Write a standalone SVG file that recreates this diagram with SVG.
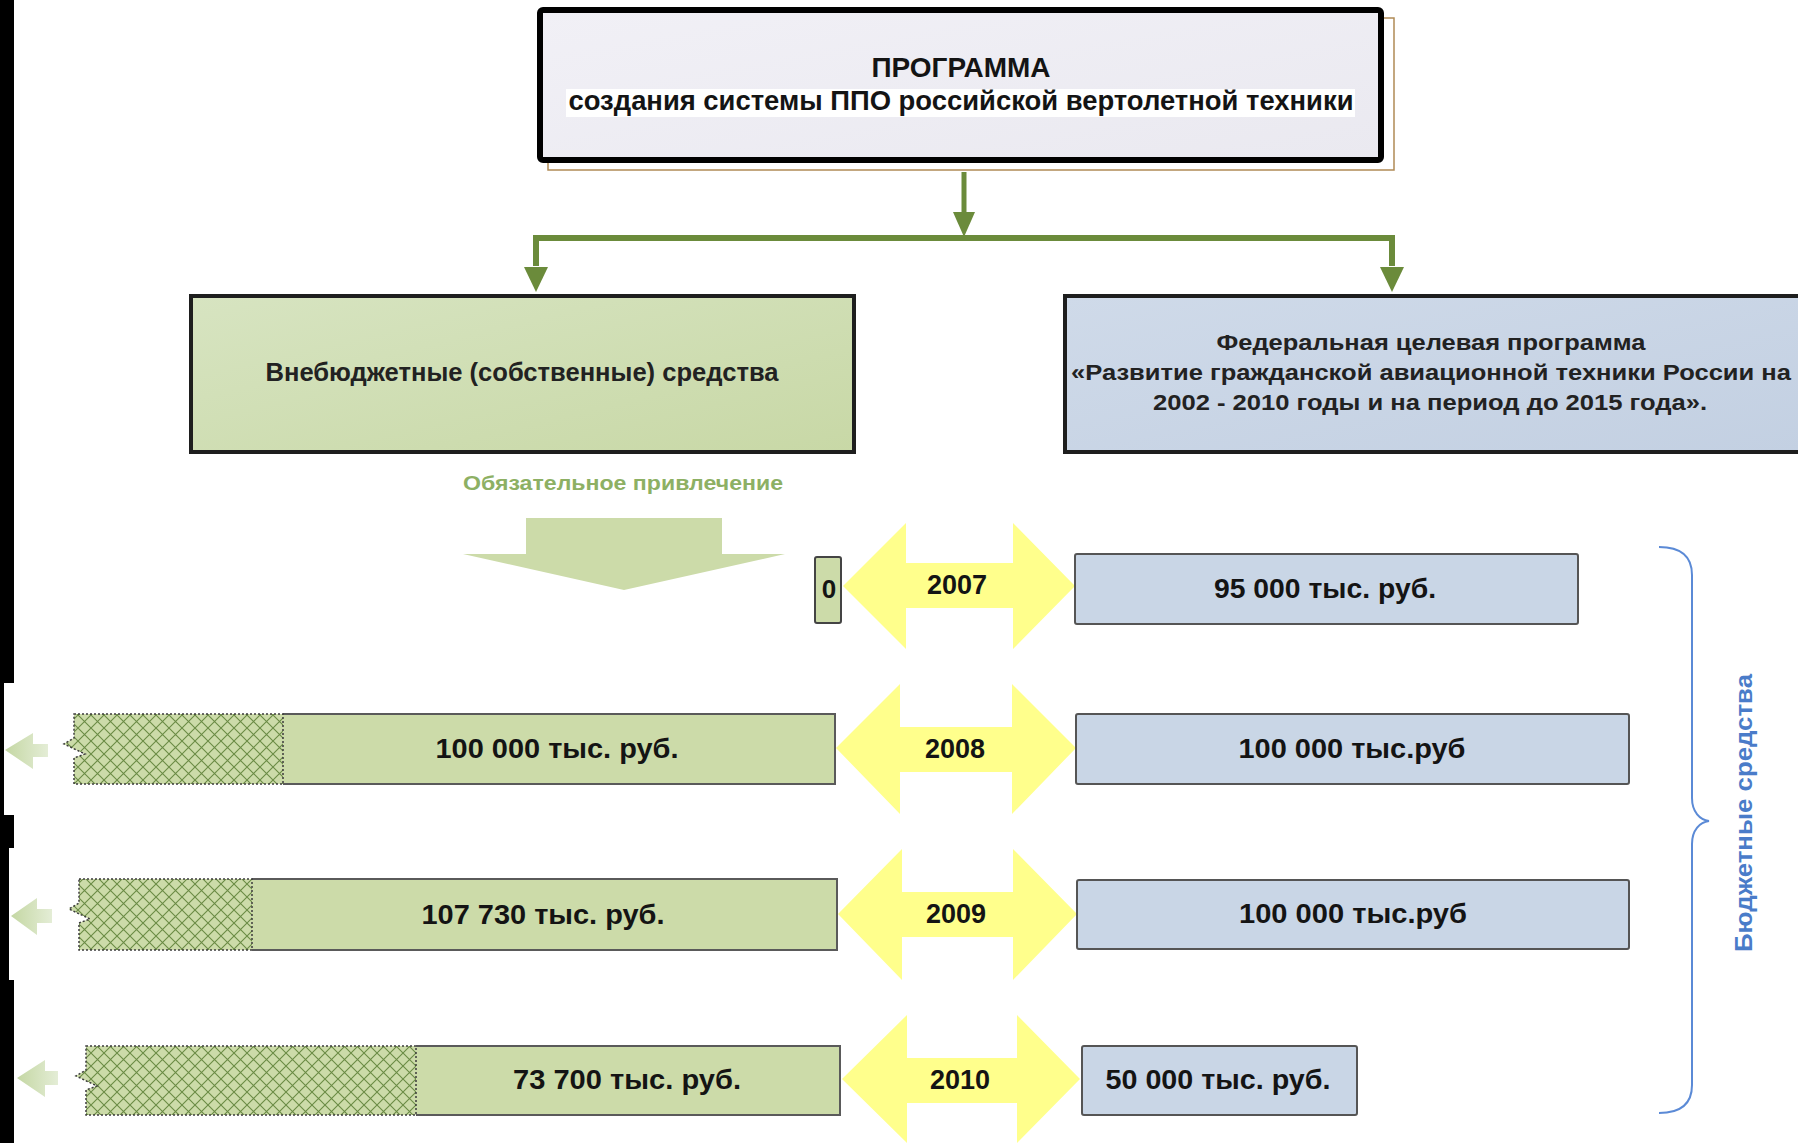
<svg xmlns="http://www.w3.org/2000/svg" width="1798" height="1143" viewBox="0 0 1798 1143">
<defs>
<style>
text{font-family:"Liberation Sans",Arial,sans-serif;fill:#141414}
.b{font-weight:bold}
.conn{stroke:#6B8B3B;fill:none}
.head{fill:#6B8B3B}
.bar{fill:#CCDBA9;stroke:none}
.barline{fill:none;stroke:#5a5a5a;stroke-width:2}
.hatch{fill:url(#hatch);stroke:#3c3c3c;stroke-width:1.5;stroke-dasharray:2 2}
.blue{fill:#C9D6E6;stroke:#555;stroke-width:2}
.yel{fill:#FFFF8C}
.val{font-size:28px;font-weight:bold;text-anchor:middle}
.yr{font-size:27px;font-weight:bold;text-anchor:middle}
.larr{fill:url(#lg)}
.greenlbl{fill:#8DB064}
.bluelbl{fill:#4A7CC9}
.dark{fill:#222}
</style>
<pattern id="hatch" patternUnits="userSpaceOnUse" width="13" height="13">
<rect width="13" height="13" fill="#CCDBA9"/>
<path d="M0,0 L13,13 M13,0 L0,13" stroke="#6A8B44" stroke-width="1.1"/>
</pattern>
<linearGradient id="gl" x1="0" y1="0" x2="1" y2="1">
<stop offset="0" stop-color="#D7E4C1"/>
<stop offset="1" stop-color="#C8D8A6"/>
</linearGradient>
<linearGradient id="bl" x1="0" y1="0" x2="1" y2="1">
<stop offset="0" stop-color="#CFDAE9"/>
<stop offset="1" stop-color="#C3D0E2"/>
</linearGradient>
<linearGradient id="tg" x1="0" y1="0" x2="1" y2="1">
<stop offset="0" stop-color="#F1F0F6"/>
<stop offset="1" stop-color="#EAE9F0"/>
</linearGradient>
<linearGradient id="lg" x1="0" y1="0" x2="1" y2="0">
<stop offset="0" stop-color="#C4D7A3"/>
<stop offset="1" stop-color="#E4EDD6"/>
</linearGradient>
</defs>
<rect width="1798" height="1143" fill="#FFFFFF"/>
<path d="M0,0 H14 V683 H4 V815 H14 V848 H9 V980 H14 V1143 H0 Z" fill="#000"/>

<g id="connectors">
<path class="conn" stroke-width="5" d="M964,172 V214"/>
<polygon class="head" points="953,212 975,212 964,237"/>
<path class="conn" stroke-width="6" d="M536,266 V238 H1392 V266"/>
<polygon class="head" points="524,267 548,267 536,292"/>
<polygon class="head" points="1380,267 1404,267 1392,292"/>
</g>

<g id="node-program">
<rect x="548" y="18" width="846" height="152" fill="none" stroke="#B08A55" stroke-width="1.5"/>
<rect x="540" y="10" width="841" height="150" rx="3" fill="url(#tg)" stroke="#000" stroke-width="6"/>
<rect x="566" y="89" width="789" height="28" fill="#FFFFFF"/>
<text class="b" x="961" y="77" font-size="28" text-anchor="middle" textLength="179" lengthAdjust="spacingAndGlyphs">ПРОГРАММА</text>
<text class="b" x="961" y="110" font-size="27" text-anchor="middle" textLength="785" lengthAdjust="spacingAndGlyphs">создания системы ППО российской вертолетной техники</text>
</g>

<g id="node-offbudget">
<rect x="191" y="296" width="663" height="156" fill="url(#gl)" stroke="#1e1e1e" stroke-width="4"/>
<text class="b dark" x="522" y="381" font-size="25" text-anchor="middle" textLength="513" lengthAdjust="spacingAndGlyphs">Внебюджетные (собственные) средства</text>
</g>

<g id="node-federal">
<rect x="1065" y="296" width="740" height="156" fill="url(#bl)" stroke="#1e1e1e" stroke-width="4"/>
<text class="b dark" x="1431" y="350" font-size="22" text-anchor="middle" textLength="429" lengthAdjust="spacingAndGlyphs">Федеральная целевая программа</text>
<text class="b dark" x="1431" y="380" font-size="22" text-anchor="middle" textLength="720" lengthAdjust="spacingAndGlyphs">«Развитие гражданской авиационной техники России на</text>
<text class="b dark" x="1430" y="410" font-size="22" text-anchor="middle" textLength="554" lengthAdjust="spacingAndGlyphs">2002 - 2010 годы и на период до 2015 года».</text>
</g>

<g id="node-mandatory">
<text class="b greenlbl" x="623" y="490" font-size="21" text-anchor="middle" textLength="320" lengthAdjust="spacingAndGlyphs">Обязательное привлечение</text>
<polygon points="526,518 722,518 722,554 785,554 624,590 463,554 526,554" fill="#CCDBA9"/>
</g>

<g id="row-2007">
<rect x="815" y="557" width="26" height="66" rx="2" fill="#CCDBA9" stroke="#444" stroke-width="2"/>
<text class="b" x="829" y="598" font-size="26" text-anchor="middle">0</text>
<polygon class="yel" points="843,586 906,523 906,563 1013,563 1013,523 1075,586 1013,649 1013,608 906,608 906,649"/>
<text class="yr" x="957" y="594">2007</text>
<rect class="blue" x="1075" y="554" width="503" height="70" rx="2"/>
<text class="val" x="1325" y="598" textLength="222" lengthAdjust="spacingAndGlyphs">95 000 тыс. руб.</text>
</g>

<g id="row-2008">
<polygon class="larr" points="5,750 33,733 33,744 48,744 48,757 33,757 33,769"/>
<path class="bar" d="M74,714 H835 V784 H74 V758 L85,754 L64,744 L74,738 Z"/>
<path class="barline" d="M283,714 H835 V784 H283"/>
<path class="hatch" d="M74,714 H283 V784 H74 V758 L85,754 L64,744 L74,738 Z"/>
<text class="val" x="557" y="758" textLength="243" lengthAdjust="spacingAndGlyphs">100 000 тыс. руб.</text>
<polygon class="yel" points="836,748 900,684 900,727 1012,727 1012,684 1076,748 1012,814 1012,772 900,772 900,814"/>
<text class="yr" x="955" y="758">2008</text>
<rect class="blue" x="1076" y="714" width="553" height="70" rx="2"/>
<text class="val" x="1352" y="758" textLength="227" lengthAdjust="spacingAndGlyphs">100 000 тыс.руб</text>
</g>

<g id="row-2009">
<polygon class="larr" points="11,916 37,898 37,909 52,909 52,923 37,923 37,935"/>
<path class="bar" d="M79,879 H837 V950 H79 V923 L90,919 L69,909 L79,903 Z"/>
<path class="barline" d="M252,879 H837 V950 H252"/>
<path class="hatch" d="M79,879 H252 V950 H79 V923 L90,919 L69,909 L79,903 Z"/>
<text class="val" x="543" y="924" textLength="243" lengthAdjust="spacingAndGlyphs">107 730 тыс. руб.</text>
<polygon class="yel" points="838,914 902,849 902,892 1013,892 1013,849 1077,914 1013,980 1013,937 902,937 902,980"/>
<text class="yr" x="956" y="923">2009</text>
<rect class="blue" x="1077" y="880" width="552" height="69" rx="2"/>
<text class="val" x="1353" y="923" textLength="228" lengthAdjust="spacingAndGlyphs">100 000 тыс.руб</text>
</g>

<g id="row-2010">
<polygon class="larr" points="17,1078 45,1060 45,1071 58,1071 58,1085 45,1085 45,1097"/>
<path class="bar" d="M86,1046 H840 V1115 H86 V1090 L97,1086 L76,1076 L86,1070 Z"/>
<path class="barline" d="M416,1046 H840 V1115 H416"/>
<path class="hatch" d="M86,1046 H416 V1115 H86 V1090 L97,1086 L76,1076 L86,1070 Z"/>
<text class="val" x="627" y="1089" textLength="228" lengthAdjust="spacingAndGlyphs">73 700 тыс. руб.</text>
<polygon class="yel" points="842,1079 907,1015 907,1058 1017,1058 1017,1015 1080,1079 1017,1143 1017,1103 907,1103 907,1143"/>
<text class="yr" x="960" y="1089">2010</text>
<rect class="blue" x="1082" y="1046" width="275" height="69" rx="2"/>
<text class="val" x="1218" y="1089" textLength="225" lengthAdjust="spacingAndGlyphs">50 000 тыс. руб.</text>
</g>

<g id="node-budget">
<path d="M1659,547 C1681,547 1692,556 1692,575 V798 C1692,812 1700,820 1709,821 C1700,822 1692,830 1692,844 V1085 C1692,1104 1681,1113 1659,1113" fill="none" stroke="#5B8AD6" stroke-width="2"/>
<text class="b bluelbl" x="1752" y="813" font-size="23" text-anchor="middle" transform="rotate(-90 1752 813)" textLength="278" lengthAdjust="spacingAndGlyphs">Бюджетные средства</text>
</g>
</svg>
